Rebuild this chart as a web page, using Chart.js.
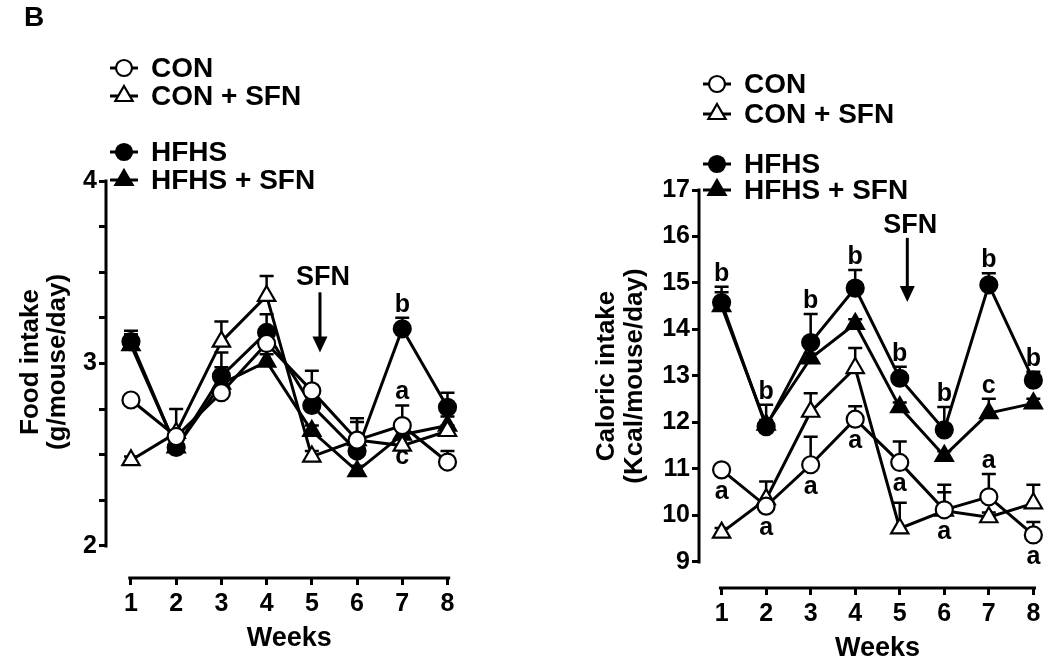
<!DOCTYPE html>
<html>
<head>
<meta charset="utf-8">
<script src="https://cdn.jsdelivr.net/npm/chart.js@4.4.1/dist/chart.umd.min.js"></script>
<style>
  html, body { margin: 0; padding: 0; background: #fff; }
  #wrap { position: relative; width: 1050px; height: 657px; overflow: hidden; }
  .box { position: absolute; top: 0; width: 525px; height: 657px; }
</style>
</head>
<body>
<div id="wrap">
  <div class="box" style="left:0"><canvas id="food" width="525" height="657"></canvas></div>
  <div class="box" style="left:525px"><canvas id="cal" width="525" height="657"></canvas></div>
</div>
<script>
var weeks = [1, 2, 3, 4, 5, 6, 7, 8];
var seriesNames = ["CON", "CON + SFN", "HFHS", "HFHS + SFN"];
var foodTicks = [2, 2.25, 2.5, 2.75, 3, 3.25, 3.5, 3.75, 4];
var calTicks = [9, 10, 11, 12, 13, 14, 15, 16, 17];

// food intake, g/mouse/day
var foodCon     = [2.80, 2.60, 2.84, 3.11, 2.85, 2.58, 2.66, 2.46];
var foodConSfn  = [2.47, 2.62, 3.12, 3.37, 2.49, 2.58, 2.55, 2.63];
var foodHfhs    = [3.12, 2.54, 2.93, 3.17, 2.77, 2.52, 3.19, 2.76];
var foodHfhsSfn = [3.10, 2.54, 2.89, 3.01, 2.63, 2.41, 2.61, 2.66];
// SEM (upper bar only)
var foodConErr     = [0.02, 0.03, 0.14, 0.04, 0.11, 0.12, 0.11, 0.06];
var foodConSfnErr  = [0.02, 0.13, 0.11, 0.11, 0.03, 0.10, 0.05, 0.03];
var foodHfhsErr    = [0.06, 0.05, 0.13, 0.10, 0.05, 0.08, 0.06, 0.08];
var foodHfhsSfnErr = [0.06, 0.03, 0.05, 0.04, 0.03, 0.03, 0.03, 0.05];

// caloric intake, Kcal/mouse/day
var calCon     = [10.98, 10.20, 11.09, 12.07, 11.14, 10.12, 10.40, 9.58];
var calConSfn  = [9.63, 10.35, 12.23, 13.17, 9.72, 10.10, 9.96, 10.26];
var calHfhs    = [14.58, 11.91, 13.72, 14.89, 12.95, 11.84, 14.96, 12.91];
var calHfhsSfn = [14.50, 11.95, 13.38, 14.12, 12.33, 11.28, 12.20, 12.41];
var calConErr     = [0.10, 0.10, 0.60, 0.28, 0.45, 0.54, 0.49, 0.28];
var calConSfnErr  = [0.10, 0.38, 0.40, 0.43, 0.55, 0.40, 0.10, 0.40];
var calHfhsErr    = [0.34, 0.47, 0.61, 0.39, 0.25, 0.49, 0.25, 0.18];
var calHfhsSfnErr = [0.30, 0.10, 0.10, 0.10, 0.10, 0.10, 0.31, 0.10];

// significance letters
var foodLetters = [
  ["", "", "", "", "", "", "a", ""],
  ["", "", "", "", "", "", "", ""],
  ["", "", "", "", "", "", "b", ""],
  ["", "", "", "", "", "", "c", ""]
];
var foodLetterSide = [
  ["", "", "", "", "", "", "above", ""],
  ["", "", "", "", "", "", "", ""],
  ["", "", "", "", "", "", "above", ""],
  ["", "", "", "", "", "", "below", ""]
];
var calLetters = [
  ["a", "a", "a", "a", "a", "a", "a", "a"],
  ["", "", "", "", "", "", "", ""],
  ["b", "b", "b", "b", "b", "b", "b", "b"],
  ["", "", "", "", "", "", "c", ""]
];
var calLetterSide = [
  ["below", "below", "below", "below", "below", "below", "above", "below"],
  ["", "", "", "", "", "", "", ""],
  ["above", "above", "above", "above", "above", "above", "above", "above"],
  ["", "", "", "", "", "", "above", ""]
];

var FONT = "'Liberation Sans', Arial, Helvetica, sans-serif";
var styles = [
  { shape: "circle", filled: false },
  { shape: "triangle", filled: false },
  { shape: "circle", filled: true },
  { shape: "triangle", filled: true }
];

function makePoints(vals) {
  return weeks.map(function(w, i) { return { x: w, y: vals[i] }; });
}

function makeDatasets(all) {
  return all.map(function(vals, s) {
    var st = styles[s];
    return {
      label: seriesNames[s],
      data: makePoints(vals),
      showLine: true,
      fill: false,
      tension: 0,
      clip: false,
      borderColor: "#000",
      borderWidth: 3,
      pointStyle: st.shape,
      pointRadius: st.shape == "circle" ? 8.5 : 10,
      pointBackgroundColor: st.filled ? "#000" : "#fff",
      pointBorderColor: "#000",
      pointBorderWidth: 2.2
    };
  });
}

function drawMarker(ctx, s, x, y) {
  var st = styles[s];
  ctx.beginPath();
  if (st.shape == "circle") {
    ctx.arc(x, y, 8, 0, Math.PI * 2);
  } else {
    var r = 10;
    ctx.moveTo(x, y - r);
    ctx.lineTo(x + r * 0.866, y + r * 0.5);
    ctx.lineTo(x - r * 0.866, y + r * 0.5);
    ctx.closePath();
  }
  ctx.fillStyle = st.filled ? "#000" : "#fff";
  ctx.fill();
  ctx.lineWidth = 2.2;
  ctx.strokeStyle = "#000";
  ctx.stroke();
}

function makeDecor(o) {
  return {
    id: "decor",
    beforeDatasetsDraw: function(chart) {
      var ctx = chart.ctx, xs = chart.scales.x, ys = chart.scales.y;
      ctx.save();
      ctx.strokeStyle = "#000";
      ctx.lineWidth = 2.5;
      o.values.forEach(function(vals, s) {
        vals.forEach(function(v, i) {
          var e = o.errors[s][i];
          var px = xs.getPixelForValue(weeks[i]);
          var p0 = ys.getPixelForValue(v), p1 = ys.getPixelForValue(v + e);
          ctx.beginPath();
          ctx.moveTo(px, p0); ctx.lineTo(px, p1);
          ctx.moveTo(px - 7, p1); ctx.lineTo(px + 7, p1);
          ctx.stroke();
        });
      });
      ctx.restore();
    },
    afterDraw: function(chart) {
      var ctx = chart.ctx, xs = chart.scales.x, ys = chart.scales.y, ca = chart.chartArea;
      ctx.save();
      ctx.strokeStyle = "#000";
      ctx.fillStyle = "#000";
      ctx.lineWidth = 3;
      // detached axis lines
      ctx.beginPath();
      ctx.moveTo(ca.left - 1, ys.getPixelForValue(o.yFrom) + 1.5);
      ctx.lineTo(ca.left - 1, ys.getPixelForValue(o.yTo) - 1.5);
      ctx.moveTo(xs.getPixelForValue(0.94), ca.bottom + 1);
      ctx.lineTo(xs.getPixelForValue(8.06), ca.bottom + 1);
      ctx.stroke();

      // letters
      ctx.font = "bold 25px " + FONT;
      ctx.textAlign = "center";
      ctx.textBaseline = "alphabetic";
      o.letters.forEach(function(row, s) {
        row.forEach(function(t, i) {
          if (!t) return;
          var v = o.values[s][i], px = xs.getPixelForValue(weeks[i]), py;
          if (o.sides[s][i] == "above") py = ys.getPixelForValue(v + o.errors[s][i]) - 6;
          else py = ys.getPixelForValue(v) + 29;
          ctx.fillText(t, px, py);
        });
      });

      // SFN arrow
      var ax = xs.getPixelForValue(o.arrow.x);
      var aTop = ys.getPixelForValue(o.arrow.top), aTip = ys.getPixelForValue(o.arrow.tip);
      ctx.font = "bold 27px " + FONT;
      ctx.textBaseline = "middle";
      ctx.fillText("SFN", ax + 3, ys.getPixelForValue(o.arrow.label));
      ctx.beginPath();
      ctx.moveTo(ax, aTop); ctx.lineTo(ax, aTip - 12);
      ctx.stroke();
      ctx.beginPath();
      ctx.moveTo(ax - 7.5, aTip - 16); ctx.lineTo(ax + 7.5, aTip - 16); ctx.lineTo(ax, aTip);
      ctx.closePath();
      ctx.fill();

      // legend
      o.legendRows.forEach(function(ly, s) {
        ctx.lineWidth = 3;
        ctx.beginPath();
        ctx.moveTo(o.legendX - 14, ly); ctx.lineTo(o.legendX + 14, ly);
        ctx.stroke();
        drawMarker(ctx, s, o.legendX, ly);
        ctx.fillStyle = "#000";
        ctx.font = "bold 28px " + FONT;
        ctx.textAlign = "left";
        ctx.textBaseline = "middle";
        ctx.fillText(seriesNames[s], o.legendX + 27, ly + 1);
      });

      // axis titles
      ctx.textAlign = "center";
      ctx.font = "bold 27px " + FONT;
      ctx.fillText("Weeks", xs.getPixelForValue(4.5), ca.bottom + 62);
      ctx.font = "bold 26px " + FONT;
      o.yTitle.forEach(function(t, k) {
        ctx.save();
        ctx.translate(o.yTitleX[k], o.yTitleY);
        ctx.rotate(-Math.PI / 2);
        ctx.fillText(t, 0, 0);
        ctx.restore();
      });

      if (o.panel) {
        ctx.font = "bold 28px " + FONT;
        ctx.textAlign = "left";
        ctx.fillText(o.panel, 24, 18);
      }
      ctx.restore();
    }
  };
}

function makeScales(xMin, xMax, yMin, yMax, yTicks, yWidth, xHeight, yLabel) {
  var tickFont = { family: FONT, size: 25, weight: "bold" };
  return {
    x: {
      type: "linear", min: xMin, max: xMax,
      afterBuildTicks: function(sc) { sc.ticks = weeks.map(function(v) { return { value: v }; }); },
      afterFit: function(sc) { sc.height = xHeight; },
      ticks: { color: "#000", font: tickFont, padding: 4, maxRotation: 0, autoSkip: false,
               callback: function(v) { return String(v); } },
      grid: { drawOnChartArea: false, tickLength: 8, lineWidth: 3, color: "#000" },
      border: { display: false }
    },
    y: {
      type: "linear", min: yMin, max: yMax,
      afterBuildTicks: function(sc) { sc.ticks = yTicks.map(function(v) { return { value: v }; }); },
      afterFit: function(sc) { sc.width = yWidth; },
      ticks: { color: "#000", font: tickFont, padding: 2, autoSkip: false, callback: yLabel },
      grid: { drawOnChartArea: false, tickLength: 8, lineWidth: 3, color: "#000" },
      border: { display: false }
    }
  };
}

var baseOptions = function(padding, scales) {
  return {
    responsive: false,
    animation: false,
    devicePixelRatio: 1,
    events: [],
    layout: { padding: padding },
    plugins: { legend: { display: false }, tooltip: { enabled: false } },
    scales: scales
  };
};

var foodAll = [foodCon, foodConSfn, foodHfhs, foodHfhsSfn];
new Chart(document.getElementById("food"), {
  type: "line",
  data: { datasets: makeDatasets(foodAll) },
  options: baseOptions({ top: 181, right: 73, bottom: 0, left: 0 },
    makeScales(0.47, 8.1, 1.83, 4, foodTicks, 107, 80, function(v) {
      return Number.isInteger(v) ? String(v) : "";
    })),
  plugins: [makeDecor({
    values: foodAll,
    errors: [foodConErr, foodConSfnErr, foodHfhsErr, foodHfhsSfnErr],
    letters: foodLetters,
    sides: foodLetterSide,
    yFrom: 2, yTo: 4,
    arrow: { x: 5.18, top: 3.39, tip: 3.06, label: 3.47 },
    legendX: 124,
    legendRows: [68, 96, 152, 180],
    yTitle: ["Food intake", "(g/mouse/day)"],
    yTitleX: [31, 58],
    yTitleY: 362,
    panel: "B"
  })]
});

var calAll = [calCon, calConSfn, calHfhs, calHfhsSfn];
new Chart(document.getElementById("cal"), {
  type: "line",
  data: { datasets: makeDatasets(calAll) },
  options: baseOptions({ top: 190, right: 6, bottom: 0, left: 0 },
    makeScales(0.515, 8.1, 8.46, 17, calTicks, 175, 70, function(v) { return String(v); })),
  plugins: [makeDecor({
    values: calAll,
    errors: [calConErr, calConSfnErr, calHfhsErr, calHfhsSfnErr],
    letters: calLetters,
    sides: calLetterSide,
    yFrom: 9, yTo: 17,
    arrow: { x: 5.17, top: 15.97, tip: 14.59, label: 16.23 },
    legendX: 192,
    legendRows: [84, 114, 164, 190],
    yTitle: ["Caloric intake", "(Kcal/mouse/day)"],
    yTitleX: [82, 110],
    yTitleY: 376,
    panel: ""
  })]
});
</script>
</body>
</html>
